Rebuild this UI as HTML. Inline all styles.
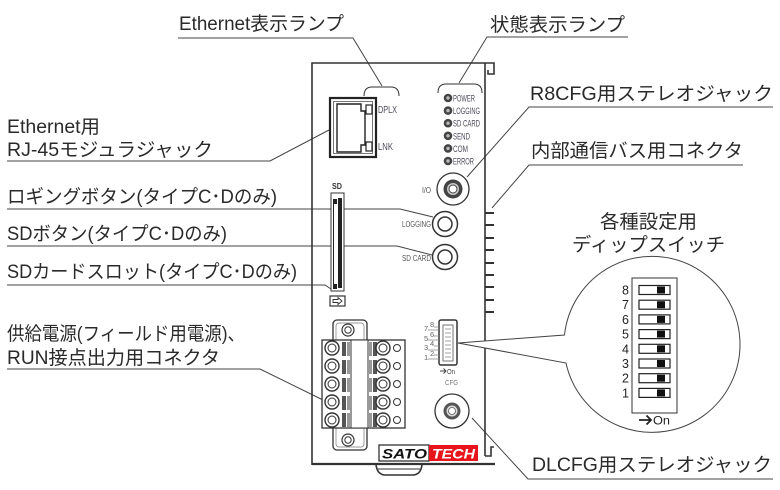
<!DOCTYPE html>
<html><head><meta charset="utf-8">
<style>
html,body{margin:0;padding:0;background:#fff;}
svg{display:block;}
text{font-family:"Liberation Sans","Noto Sans CJK JP",sans-serif;}
</style></head><body>
<svg width="780" height="490" viewBox="0 0 780 490" xmlns="http://www.w3.org/2000/svg">
<rect width="780" height="490" fill="#fff"/>

<!-- ===== Big labels ===== -->
<g fill="#2a2a2a" font-size="19">
<text x="179" y="30" textLength="165" lengthAdjust="spacingAndGlyphs">Ethernet表示ランプ</text>
<text x="490" y="31" textLength="135" lengthAdjust="spacingAndGlyphs">状態表示ランプ</text>
<text x="530" y="100" textLength="243" lengthAdjust="spacingAndGlyphs">R8CFG用ステレオジャック</text>
<text x="531" y="157" textLength="212" lengthAdjust="spacingAndGlyphs">内部通信バス用コネクタ</text>
<text x="600" y="228" textLength="97" lengthAdjust="spacingAndGlyphs">各種設定用</text>
<text x="572" y="251" textLength="153" lengthAdjust="spacingAndGlyphs">ディップスイッチ</text>
<text x="532" y="471" textLength="240" lengthAdjust="spacingAndGlyphs">DLCFG用ステレオジャック</text>

<text x="7" y="133" textLength="93" lengthAdjust="spacingAndGlyphs">Ethernet用</text>
<text x="7" y="156" textLength="206" lengthAdjust="spacingAndGlyphs">RJ-45モジュラジャック</text>
<text x="7" y="203" textLength="270" lengthAdjust="spacingAndGlyphs">ロギングボタン(タイプC･Dのみ)</text>
<text x="7" y="240" textLength="220" lengthAdjust="spacingAndGlyphs">SDボタン(タイプC･Dのみ)</text>
<text x="7" y="278" textLength="290" lengthAdjust="spacingAndGlyphs">SDカードスロット(タイプC･Dのみ)</text>
<text x="7" y="340" textLength="238" lengthAdjust="spacingAndGlyphs">供給電源(フィールド用電源)、</text>
<text x="7" y="364" textLength="213" lengthAdjust="spacingAndGlyphs">RUN接点出力用コネクタ</text>
</g>

<!-- ===== Leader lines ===== -->
<g fill="none" stroke="#444" stroke-width="1">
<polyline points="178,38 353,38 382,86"/>
<polyline points="628,37 487,37 459,83"/>
<polyline points="773,107 529,107 467,177"/>
<polyline points="743,165 529,165 492,208"/>
<polyline points="773,479 528,479 472,418"/>
<polyline points="7,161 270,161 329,130"/>
<polyline points="7,209 400,209 433,217"/>
<polyline points="7,246 397,246 432,255"/>
<polyline points="7,285 325,285 331,289"/>
<polyline points="7,369 260,369 323,400"/>
</g>

<!-- ===== Device body ===== -->
<g fill="none" stroke="#333" stroke-width="1.6">
<path d="M312,465 V63 H494 V74 H488 V70"/>
<line x1="485" y1="63" x2="485" y2="456"/>
<path d="M485,456 H491 V447 H494"/>
<line x1="312" y1="464" x2="495" y2="464" stroke-width="2.2"/>
<path d="M376,465 C377,471 379,474 384,475 H414 C419,474 421,471 422,465"/>
<line x1="378" y1="469" x2="420" y2="469" stroke-width="1"/>
</g>
<!-- ribs -->
<g stroke="#333" stroke-width="2">
<line x1="485" y1="213" x2="494" y2="213"/>
<line x1="485" y1="225" x2="494" y2="225"/>
<line x1="485" y1="238" x2="494" y2="238"/>
<line x1="485" y1="250" x2="494" y2="250"/>
<line x1="485" y1="263" x2="494" y2="263"/>
<line x1="485" y1="275" x2="494" y2="275"/>
<line x1="485" y1="287" x2="494" y2="287"/>
<line x1="485" y1="300" x2="494" y2="300"/>
<line x1="485" y1="312" x2="494" y2="312"/>
</g>

<!-- ===== Ethernet jack ===== -->
<rect x="330" y="98" width="46" height="59" fill="none" stroke="#222" stroke-width="2.2"/>
<rect x="333.5" y="101.5" width="39" height="52" fill="none" stroke="#555" stroke-width="0.8"/>
<path d="M337,104 H361 V111 H365 V145 H361 V152 H337 Z" fill="none" stroke="#222" stroke-width="1.4"/>
<rect x="366" y="105" width="6" height="9" fill="#fff" stroke="#222" stroke-width="1.2"/>
<rect x="366" y="142" width="6" height="9" fill="#fff" stroke="#222" stroke-width="1.2"/>
<path d="M364,96 Q364,87 372,87 L391,87 Q399,87 399,96" fill="none" stroke="#333" stroke-width="1"/>
<g fill="#4a4a5a" font-size="10">
<text x="378" y="113" textLength="19" lengthAdjust="spacingAndGlyphs">DPLX</text>
<text x="378" y="150" textLength="15" lengthAdjust="spacingAndGlyphs">LNK</text>
</g>

<!-- ===== Status LEDs ===== -->
<path d="M438,93 Q438,84 446,84 L474,84 Q482,84 482,93" fill="none" stroke="#333" stroke-width="1"/>
<g>
<circle cx="448" cy="98" r="4.3" fill="#444"/><circle cx="448" cy="98" r="1.7" fill="#bbb"/>
<circle cx="448" cy="110.6" r="4.3" fill="#444"/><circle cx="448" cy="110.6" r="1.7" fill="#bbb"/>
<circle cx="448" cy="123.2" r="4.3" fill="#444"/><circle cx="448" cy="123.2" r="1.7" fill="#bbb"/>
<circle cx="448" cy="135.8" r="4.3" fill="#444"/><circle cx="448" cy="135.8" r="1.7" fill="#bbb"/>
<circle cx="448" cy="148.4" r="4.3" fill="#444"/><circle cx="448" cy="148.4" r="1.7" fill="#bbb"/>
<circle cx="448" cy="161" r="4.3" fill="#444"/><circle cx="448" cy="161" r="1.7" fill="#bbb"/>
</g>
<g fill="#4a4a5a" font-size="9.5">
<text x="453" y="101.5" textLength="22" lengthAdjust="spacingAndGlyphs">POWER</text>
<text x="453" y="114" textLength="27" lengthAdjust="spacingAndGlyphs">LOGGING</text>
<text x="453" y="126.7" textLength="27" lengthAdjust="spacingAndGlyphs">SD CARD</text>
<text x="453" y="139.3" textLength="17" lengthAdjust="spacingAndGlyphs">SEND</text>
<text x="453" y="151.9" textLength="15" lengthAdjust="spacingAndGlyphs">COM</text>
<text x="453" y="164.5" textLength="21" lengthAdjust="spacingAndGlyphs">ERROR</text>
</g>

<!-- ===== I/O jack ===== -->
<circle cx="453" cy="189" r="16" fill="#fff" stroke="#333" stroke-width="1.3"/>
<circle cx="453" cy="189" r="9.5" fill="#444"/>
<circle cx="453" cy="189" r="6" fill="#ccc"/>
<circle cx="453" cy="189" r="4" fill="#fff" stroke="#444" stroke-width="1"/>
<text x="422" y="193" font-size="8" fill="#555" textLength="9" lengthAdjust="spacingAndGlyphs">I/O</text>

<!-- ===== Buttons ===== -->
<circle cx="445" cy="224" r="12.5" fill="#fff" stroke="#333" stroke-width="1.5"/>
<circle cx="445" cy="224" r="7" fill="#fff" stroke="#333" stroke-width="1.5"/>
<circle cx="445" cy="257" r="12.5" fill="#fff" stroke="#333" stroke-width="1.5"/>
<circle cx="445" cy="257" r="7" fill="#fff" stroke="#333" stroke-width="1.5"/>
<g fill="#555" font-size="8">
<text x="402" y="227" textLength="29" lengthAdjust="spacingAndGlyphs">LOGGING</text>
<text x="402" y="261" textLength="29" lengthAdjust="spacingAndGlyphs">SD CARD</text>
</g>

<!-- ===== SD slot ===== -->
<text x="332" y="189" font-size="8" font-weight="bold" fill="#333" textLength="10" lengthAdjust="spacingAndGlyphs">SD</text>
<rect x="331" y="193" width="13" height="98" fill="#fff" stroke="#333" stroke-width="1"/>
<path d="M333,199 H337 V204 H334 V284 H337 V289 H333 Z" fill="#222"/>
<rect x="338" y="198" width="4" height="90" fill="#222"/>
<rect x="330" y="296" width="15" height="10" fill="#fff" stroke="#333" stroke-width="1.2"/>
<path d="M333,299.5 H338 V297.5 L342,301 L338,304.5 V302.5 H333 Z" fill="none" stroke="#333" stroke-width="0.9"/>

<!-- ===== Terminal block ===== -->
<rect x="333" y="320" width="34" height="130" rx="4" fill="#fff" stroke="#333" stroke-width="1.3"/>
<rect x="336" y="323" width="28" height="124" rx="3" fill="none" stroke="#777" stroke-width="0.7"/>
<circle cx="348" cy="330" r="6" fill="#fff" stroke="#333" stroke-width="1.2"/>
<circle cx="348" cy="330" r="3.2" fill="none" stroke="#333" stroke-width="1"/>
<circle cx="348" cy="440" r="6" fill="#fff" stroke="#333" stroke-width="1.2"/>
<circle cx="348" cy="440" r="3.2" fill="none" stroke="#333" stroke-width="1"/>
<rect x="322" y="340" width="83" height="88" fill="#fff" stroke="#333" stroke-width="1.3"/>
<rect x="351" y="340" width="17" height="88" fill="#fff" stroke="#333" stroke-width="1"/>
<g>
<rect x="342" y="342" width="4" height="14" fill="#555"/><rect x="347" y="342" width="3" height="14" fill="#999"/>
<rect x="369" y="342" width="3" height="14" fill="#999"/><rect x="373" y="342" width="4" height="14" fill="#555"/>
<rect x="342" y="360" width="4" height="14" fill="#555"/><rect x="347" y="360" width="3" height="14" fill="#999"/>
<rect x="369" y="360" width="3" height="14" fill="#999"/><rect x="373" y="360" width="4" height="14" fill="#555"/>
<rect x="342" y="378" width="4" height="14" fill="#555"/><rect x="347" y="378" width="3" height="14" fill="#999"/>
<rect x="369" y="378" width="3" height="14" fill="#999"/><rect x="373" y="378" width="4" height="14" fill="#555"/>
<rect x="342" y="396" width="4" height="14" fill="#555"/><rect x="347" y="396" width="3" height="14" fill="#999"/>
<rect x="369" y="396" width="3" height="14" fill="#999"/><rect x="373" y="396" width="4" height="14" fill="#555"/>
<rect x="342" y="413" width="4" height="14" fill="#555"/><rect x="347" y="413" width="3" height="14" fill="#999"/>
<rect x="369" y="413" width="3" height="14" fill="#999"/><rect x="373" y="413" width="4" height="14" fill="#555"/>
</g>
<g fill="#fff" stroke="#333" stroke-width="1.4">
<circle cx="332" cy="348" r="7"/><circle cx="332" cy="366" r="7"/><circle cx="332" cy="384" r="7"/><circle cx="332" cy="402" r="7"/><circle cx="332" cy="420" r="7"/>
<circle cx="383" cy="348" r="7"/><circle cx="383" cy="366" r="7"/><circle cx="383" cy="384" r="7"/><circle cx="383" cy="402" r="7"/><circle cx="383" cy="420" r="7"/>
</g>
<g fill="none" stroke="#333" stroke-width="1">
<circle cx="332" cy="348" r="4"/><circle cx="332" cy="366" r="4"/><circle cx="332" cy="384" r="4"/><circle cx="332" cy="402" r="4"/><circle cx="332" cy="420" r="4"/>
<circle cx="383" cy="348" r="4"/><circle cx="383" cy="366" r="4"/><circle cx="383" cy="384" r="4"/><circle cx="383" cy="402" r="4"/><circle cx="383" cy="420" r="4"/>
<circle cx="397" cy="348" r="3.5"/><circle cx="397" cy="366" r="3.5"/><circle cx="397" cy="384" r="3.5"/><circle cx="397" cy="402" r="3.5"/><circle cx="397" cy="420" r="3.5"/>
</g>

<!-- ===== Small DIP switch on device ===== -->
<rect x="439" y="320" width="18" height="45" rx="2" fill="#fff" stroke="#333" stroke-width="1.5"/>
<rect x="443" y="325" width="10" height="36" fill="none" stroke="#555" stroke-width="0.8"/>
<g stroke="#888" stroke-width="0.8">
<line x1="445" y1="329" x2="451" y2="329"/><line x1="445" y1="333" x2="451" y2="333"/>
<line x1="445" y1="337" x2="451" y2="337"/><line x1="445" y1="341" x2="451" y2="341"/>
<line x1="445" y1="345" x2="451" y2="345"/><line x1="445" y1="349" x2="451" y2="349"/>
<line x1="445" y1="353" x2="451" y2="353"/><line x1="445" y1="357" x2="451" y2="357"/>
<line x1="428" y1="330" x2="439" y2="330"/><line x1="434" y1="327" x2="439" y2="327"/>
<line x1="428" y1="340" x2="439" y2="340"/><line x1="434" y1="336" x2="439" y2="336"/>
<line x1="428" y1="350" x2="439" y2="350"/><line x1="434" y1="346" x2="439" y2="346"/>
<line x1="428" y1="359" x2="439" y2="359"/><line x1="434" y1="355" x2="439" y2="355"/>
</g>
<g fill="#666" font-size="7.5">
<text x="424" y="331">7</text><text x="430" y="327">8</text>
<text x="424" y="341">5</text><text x="430" y="337">6</text>
<text x="424" y="350">3</text><text x="430" y="346">4</text>
<text x="424" y="360">1</text><text x="430" y="356">2</text>
</g>
<path d="M440,371 H446 M443.5,368.5 L446,371 L443.5,373.5" fill="none" stroke="#444" stroke-width="1"/>
<text x="447" y="374" font-size="7" fill="#444" textLength="8" lengthAdjust="spacingAndGlyphs">On</text>
<text x="445" y="385" font-size="7" fill="#777" textLength="13" lengthAdjust="spacingAndGlyphs">CFG</text>

<!-- ===== CFG jack ===== -->
<circle cx="452" cy="411" r="17" fill="#fff" stroke="#333" stroke-width="1.3"/>
<circle cx="452" cy="411" r="8.5" fill="#555"/>
<circle cx="452" cy="411" r="5.5" fill="#ddd"/>
<circle cx="452" cy="411" r="3.5" fill="#fff" stroke="#555" stroke-width="0.8"/>

<!-- ===== SATOTECH logo ===== -->
<rect x="379" y="445" width="50" height="16" fill="#fff" stroke="#222" stroke-width="1.2"/>
<rect x="429" y="445" width="49" height="16" fill="#e8141c"/>
<text x="382" y="458.5" font-size="14" font-weight="bold" font-style="italic" fill="#111" textLength="45" lengthAdjust="spacingAndGlyphs">SATO</text>
<text x="432" y="458.5" font-size="14" font-weight="bold" font-style="italic" fill="#fff" textLength="43" lengthAdjust="spacingAndGlyphs">TECH</text>

<!-- ===== Magnified DIP bubble ===== -->
<path d="M458,343 L564.5,335 A88,88 0 1 1 566,363 Z" fill="#fff" stroke="#444" stroke-width="1"/>
<rect x="632" y="278" width="45" height="135" fill="#fff" stroke="#333" stroke-width="1"/>
<g fill="#fff" stroke="#222" stroke-width="1.2">
<rect x="639" y="285.5" width="31" height="9"/>
<rect x="639" y="300.2" width="31" height="9"/>
<rect x="639" y="314.9" width="31" height="9"/>
<rect x="639" y="329.6" width="31" height="9"/>
<rect x="639" y="344.3" width="31" height="9"/>
<rect x="639" y="359" width="31" height="9"/>
<rect x="639" y="373.7" width="31" height="9"/>
<rect x="639" y="388.4" width="31" height="9"/>
</g>
<g fill="#111">
<rect x="657" y="286.5" width="8" height="7"/>
<rect x="657" y="301.2" width="8" height="7"/>
<rect x="657" y="315.9" width="8" height="7"/>
<rect x="657" y="330.6" width="8" height="7"/>
<rect x="657" y="345.3" width="8" height="7"/>
<rect x="657" y="360" width="8" height="7"/>
<rect x="657" y="374.7" width="8" height="7"/>
<rect x="657" y="389.4" width="8" height="7"/>
</g>
<g fill="#222" font-size="12.5" text-anchor="end">
<text x="629" y="294.5">8</text>
<text x="629" y="309.2">7</text>
<text x="629" y="323.9">6</text>
<text x="629" y="338.6">5</text>
<text x="629" y="353.3">4</text>
<text x="629" y="368">3</text>
<text x="629" y="382.7">2</text>
<text x="629" y="397.4">1</text>
</g>
<path d="M639,420 H651 M646.5,415.5 L651,420 L646.5,424.5" fill="none" stroke="#222" stroke-width="1.8"/>
<text x="653" y="424.5" font-size="12" fill="#222" textLength="17" lengthAdjust="spacingAndGlyphs">On</text>

</svg>
</body></html>
